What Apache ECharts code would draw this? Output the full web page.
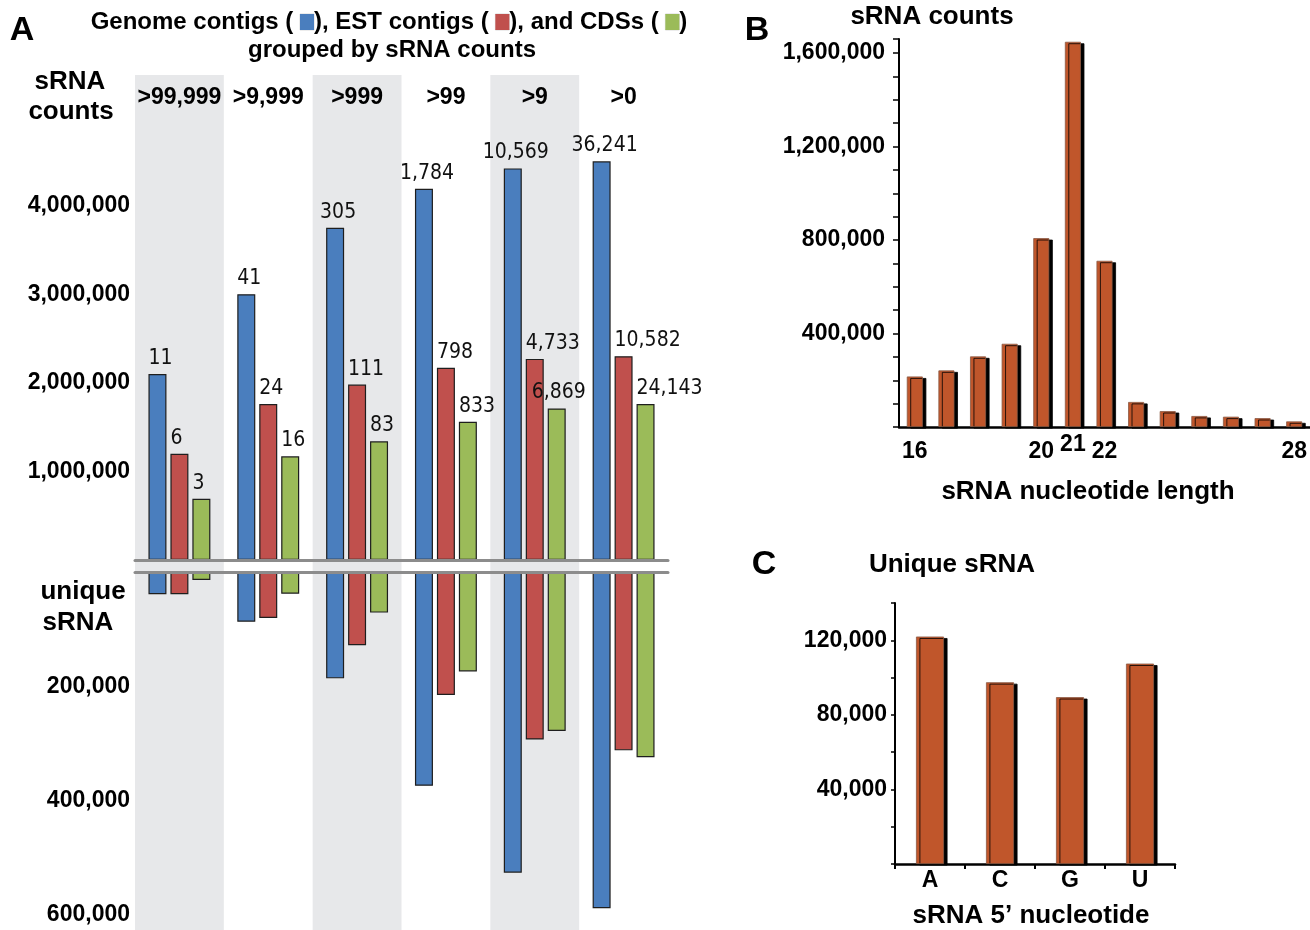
<!DOCTYPE html>
<html>
<head>
<meta charset="utf-8">
<script src="https://cdn.jsdelivr.net/npm/echarts@6/dist/echarts.min.js"></script>
<style>
html,body{margin:0;padding:0;background:#fff;}
#chart{width:1310px;height:930px;}
</style>
</head>
<body>
<div id="chart"></div>
<script>
// ---------- Panel A data ----------
const categories = ['>99,999', '>9,999', '>999', '>99', '>9', '>0'];
const genomeReads = [2100000, 3000000, 3750000, 4190000, 4420000, 4500000];
const estReads    = [1200000, 1760000, 1980000, 2170000, 2270000, 2300000];
const cdsReads    = [690000, 1170000, 1340000, 1560000, 1710000, 1760000];
const genomeUnique = [39000, 87000, 186000, 374000, 526000, 588000];
const estUnique    = [39000, 80500, 128000, 215000, 293000, 312000];
const cdsUnique    = [14000, 38000, 71000, 174000, 278000, 324000];
const genomeContigCounts = [11, 41, 305, 1784, 10569, 36241];
const estContigCounts    = [6, 24, 111, 798, 4733, 10582];
const cdsCounts          = [3, 16, 83, 833, 6869, 24143];
const readTicks   = [1000000, 2000000, 3000000, 4000000];
const uniqueTicks = [200000, 400000, 600000];

// ---------- Panel B data ----------
const lengths = ['16', '17', '18', '19', '20', '21', '22', '23', '24', '25', '26', '27', '28'];
const lengthCounts = [216000, 242000, 302000, 356000, 808000, 1648000, 711000, 107000, 68000, 47000, 44000, 38000, 24000];
const shownLengths = ['16', '20', '21', '22', '28'];
const lengthTicks = [400000, 800000, 1200000, 1600000];

// ---------- Panel C data ----------
const nucleotides = ['A', 'C', 'G', 'U'];
const uniqueByNucleotide = [122000, 97500, 89500, 107500];
const nucleotideTicks = [40000, 80000, 120000];

const FONT = '"Liberation Sans", Arial, sans-serif';
const NARROW = '"Liberation Sans Narrow", "Arial Narrow", "DejaVu Sans Condensed", "Liberation Sans", sans-serif';
const fmt = v => v.toLocaleString('en-US');
const BLUE = '#4A7EBE', RED = '#C0504D', GREEN = '#9BBB59', ORANGE = '#C0562B';
const BORDER = '#1e1e1e';

const chart = echarts.init(document.getElementById('chart'));

function topSeries(name, values, counts, color, labelCfg, overrides) {
  return {
    name, type: 'bar', xAxisIndex: 2, yAxisIndex: 1,
    barWidth: 18, barGap: '22%',
    itemStyle: { color, borderColor: BORDER, borderWidth: 1.2 },
    label: Object.assign({
      show: true, position: 'top', distance: 5,
      color: '#111', fontFamily: NARROW, fontSize: 21,
      formatter: p => fmt(counts[p.dataIndex])
    }, labelCfg),
    data: values.map((v, i) => overrides && overrides[i] ? { value: v, label: overrides[i] } : v)
  };
}
function bottomSeries(name, values, color) {
  return {
    name: name + ' unique', type: 'bar', xAxisIndex: 3, yAxisIndex: 2,
    barWidth: 18, barGap: '22%',
    itemStyle: { color, borderColor: BORDER, borderWidth: 1.2 },
    data: values
  };
}

const barShadow = {
  color: ORANGE, borderColor: '#8a5a45', borderWidth: 0.8,
  shadowColor: '#000', shadowBlur: 0, shadowOffsetX: 3.5, shadowOffsetY: 1.5
};

const bold = (size) => ({ color: '#000', fontFamily: FONT, fontWeight: 'bold', fontSize: size });
const boxStyle = c => ({ backgroundColor: c, width: 14, height: 16, borderColor: 'rgba(0,0,0,0.15)', borderWidth: 0.5 });

const option = {
  animation: false,
  backgroundColor: '#fff',
  grid: [
    { left: 135, top: 75, width: 533, bottom: 0 },          // 0 background bands
    { left: 135, top: 117, width: 533, height: 443 },       // 1 sRNA counts
    { left: 135, top: 572, width: 533, height: 343 },       // 2 unique sRNA
    { left: 899, top: 39, width: 411, height: 388 },        // 3 panel B
    { left: 895, top: 603, width: 280, height: 261 }        // 4 panel C
  ],
  xAxis: [
    { gridIndex: 0, type: 'category', data: categories, axisLine: { show: false }, axisTick: { show: false },
      axisLabel: { show: false },
      splitArea: { show: true, interval: 0, areaStyle: { color: ['#E7E8EA', 'rgba(255,255,255,0)'] } } },
    { gridIndex: 1, type: 'category', data: categories, position: 'bottom', z: 6,
      axisLine: { show: true, lineStyle: { color: '#8C8C8C', width: 3 } },
      axisTick: { show: false }, axisLabel: { show: false } },
    { gridIndex: 1, type: 'category', data: categories, position: 'top',
      axisLine: { show: false }, axisTick: { show: false },
      axisLabel: Object.assign({ interval: 0, margin: 8 }, bold(23)) },
    { gridIndex: 2, type: 'category', data: categories, position: 'top', z: 6,
      axisLine: { show: true, lineStyle: { color: '#8C8C8C', width: 3 } },
      axisTick: { show: false }, axisLabel: { show: false } },
    { gridIndex: 3, type: 'category', position: 'bottom',
      data: lengths.map(l => ({ value: l, textStyle: { lineHeight: l === '21' ? 26 : 40 } })),
      axisLine: { show: true, lineStyle: { color: '#000', width: 2.5 } },
      axisTick: { show: false },
      axisLabel: Object.assign({ interval: (i, v) => shownLengths.includes(v), margin: 5 }, bold(23)) },
    { gridIndex: 4, type: 'category', position: 'bottom', data: nucleotides,
      axisLine: { show: true, lineStyle: { color: '#000', width: 2.5 } },
      axisTick: { show: true, length: 5, inside: false, lineStyle: { color: '#000', width: 2 } },
      axisLabel: Object.assign({ interval: 0, margin: 5 }, bold(23)) }
  ],
  yAxis: [
    { gridIndex: 0, type: 'value', show: false },
    { gridIndex: 1, type: 'value', min: 0, max: 5000000, interval: 1000000,
      axisLine: { show: false }, axisTick: { show: false }, splitLine: { show: false },
      axisLabel: Object.assign({ margin: 5, formatter: v => readTicks.includes(v) ? fmt(v) : '' }, bold(23)) },
    { gridIndex: 2, type: 'value', min: 0, max: 600000, interval: 200000, inverse: true,
      axisLine: { show: false }, axisTick: { show: false }, splitLine: { show: false },
      axisLabel: Object.assign({ margin: 5, formatter: v => uniqueTicks.includes(v) ? fmt(v) : '' }, bold(23)) },
    { gridIndex: 3, type: 'value', min: 0, max: 1660000, interval: 100000,
      axisLine: { show: true, lineStyle: { color: '#000', width: 2 } },
      axisTick: { show: true, length: 6, lineStyle: { color: '#000', width: 1.5 } },
      splitLine: { show: false },
      axisLabel: Object.assign({ margin: 14, formatter: v => lengthTicks.includes(v) ? fmt(v) : '' }, bold(23)) },
    { gridIndex: 4, type: 'value', min: 0, max: 140000, interval: 20000,
      axisLine: { show: true, lineStyle: { color: '#000', width: 2 } },
      axisTick: { show: true, length: 4, lineStyle: { color: '#000', width: 1.5 } },
      splitLine: { show: false },
      axisLabel: Object.assign({ margin: 8, formatter: v => nucleotideTicks.includes(v) ? fmt(v) : '' }, bold(23)) }
  ],
  series: [
    { type: 'bar', xAxisIndex: 0, yAxisIndex: 0, data: [], silent: true },
    topSeries('Genome contigs', genomeReads, genomeContigCounts, BLUE, { align: 'center', offset: [3, 0] }),
    topSeries('EST contigs', estReads, estContigCounts, RED, { align: 'left', offset: [-9, 0] }),
    topSeries('CDSs', cdsReads, cdsCounts, GREEN, { align: 'left', offset: [-9, 0] },
      { 4: { align: 'center', offset: [2, 0] } }),
    bottomSeries('Genome contigs', genomeUnique, BLUE),
    bottomSeries('EST contigs', estUnique, RED),
    bottomSeries('CDSs', cdsUnique, GREEN),
    { name: 'sRNA length', type: 'bar', xAxisIndex: 4, yAxisIndex: 3, barWidth: 16,
      itemStyle: barShadow, data: lengthCounts },
    { name: "sRNA 5' nucleotide", type: 'bar', xAxisIndex: 5, yAxisIndex: 4, barWidth: 28,
      itemStyle: barShadow, data: uniqueByNucleotide }
  ],
  graphic: [
    { type: 'text', x: 22, y: 31, style: { text: 'A', font: 'bold 34px ' + FONT, fill: '#000', textAlign: 'center', textVerticalAlign: 'middle' } },
    { type: 'text', x: 389, y: 22, style: {
        text: 'Genome contigs ( {b| }), EST contigs ( {r| }), and CDSs ( {g| })',
        font: 'bold 24px ' + FONT, fill: '#000', textAlign: 'center', textVerticalAlign: 'middle',
        rich: { b: boxStyle(BLUE), r: boxStyle(RED), g: boxStyle(GREEN) } } },
    { type: 'text', x: 392, y: 50, style: { text: 'grouped by sRNA counts', font: 'bold 24px ' + FONT, fill: '#000', textAlign: 'center', textVerticalAlign: 'middle' } },
    { type: 'text', x: 70, y: 82, style: { text: 'sRNA', font: 'bold 26px ' + FONT, fill: '#000', textAlign: 'center', textVerticalAlign: 'middle' } },
    { type: 'text', x: 71, y: 112, style: { text: 'counts', font: 'bold 26px ' + FONT, fill: '#000', textAlign: 'center', textVerticalAlign: 'middle' } },
    { type: 'text', x: 83, y: 592, style: { text: 'unique', font: 'bold 26px ' + FONT, fill: '#000', textAlign: 'center', textVerticalAlign: 'middle' } },
    { type: 'text', x: 78, y: 623, style: { text: 'sRNA', font: 'bold 26px ' + FONT, fill: '#000', textAlign: 'center', textVerticalAlign: 'middle' } },
    { type: 'text', x: 757, y: 31, style: { text: 'B', font: 'bold 34px ' + FONT, fill: '#000', textAlign: 'center', textVerticalAlign: 'middle' } },
    { type: 'text', x: 932, y: 17, style: { text: 'sRNA counts', font: 'bold 26px ' + FONT, fill: '#000', textAlign: 'center', textVerticalAlign: 'middle' } },
    { type: 'text', x: 1088, y: 492, style: { text: 'sRNA nucleotide length', font: 'bold 26px ' + FONT, fill: '#000', textAlign: 'center', textVerticalAlign: 'middle' } },
    { type: 'text', x: 764, y: 565, style: { text: 'C', font: 'bold 34px ' + FONT, fill: '#000', textAlign: 'center', textVerticalAlign: 'middle' } },
    { type: 'text', x: 952, y: 565, style: { text: 'Unique sRNA', font: 'bold 26px ' + FONT, fill: '#000', textAlign: 'center', textVerticalAlign: 'middle' } },
    { type: 'text', x: 1031, y: 916, style: { text: 'sRNA 5\u2019 nucleotide', font: 'bold 26px ' + FONT, fill: '#000', textAlign: 'center', textVerticalAlign: 'middle' } }
  ]
};
chart.setOption(option);
</script>
</body>
</html>
